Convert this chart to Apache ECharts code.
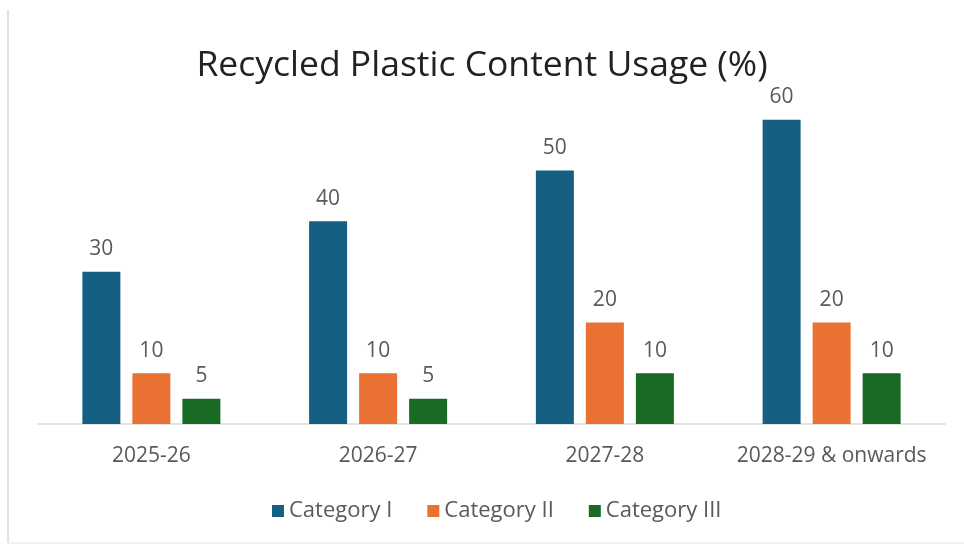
<!DOCTYPE html>
<html>
<head>
<meta charset="utf-8">
<script src="https://cdn.jsdelivr.net/npm/echarts@6/dist/echarts.min.js"></script>
<style>
html,body{margin:0;padding:0;background:#fff;}
#c{width:964px;height:545px;}
</style>
</head>
<body>
<div id="c"></div>
<script>
const categories = ['2025-26', '2026-27', '2027-28', '2028-29 & onwards'];
const seriesNames = ['Category I', 'Category II', 'Category III'];
const catI = [30, 40, 50, 60];
const catII = [10, 10, 20, 20];
const catIII = [5, 5, 10, 10];
const colors = ['#156082', '#E97132', '#196B24'];
const FONT = '"Open Sans", "Noto Sans", sans-serif';

const chart = echarts.init(document.getElementById('c'));
const labelStyle = {show: true, position: 'top', distance: 12, color: '#595959', fontSize: 21, fontFamily: FONT};
const mk = (name, data, i) => ({
  name, type: 'bar', data, barWidth: 38, barGap: '31.6%',
  itemStyle: {color: colors[i]}, label: labelStyle
});
chart.setOption({
  animation: false,
  title: {text: 'Recycled Plastic Content Usage (%)', left: 'center', top: 43,
    textStyle: {fontFamily: FONT, fontSize: 35.5, fontWeight: 'normal', color: '#222'}},
  legend: {data: seriesNames, left: 267, top: 495, itemWidth: 12, itemHeight: 12,
    itemGap: 35, icon: 'rect',
    textStyle: {fontFamily: FONT, fontSize: 22, color: '#595959'}},
  grid: {left: 38, right: 19, top: 69, bottom: 121},
  xAxis: {type: 'category', data: categories,
    axisLine: {lineStyle: {color: '#d9d9d9', width: 1.5}}, axisTick: {show: false},
    axisLabel: {fontFamily: FONT, fontSize: 21, color: '#595959', margin: 22, interval: 0, hideOverlap: false}},
  yAxis: {type: 'value', min: 0, max: 70, show: false},
  graphic: [
    {type: 'line', shape: {x1: 8, y1: 10, x2: 8, y2: 543}, style: {stroke: '#d9d9d9', lineWidth: 1.5}},
    {type: 'line', shape: {x1: 8, y1: 543, x2: 964, y2: 543}, style: {stroke: '#e6e6e6', lineWidth: 1}}
  ],
  series: [mk(seriesNames[0], catI, 0), mk(seriesNames[1], catII, 1), mk(seriesNames[2], catIII, 2)]
});
</script>
</body>
</html>
